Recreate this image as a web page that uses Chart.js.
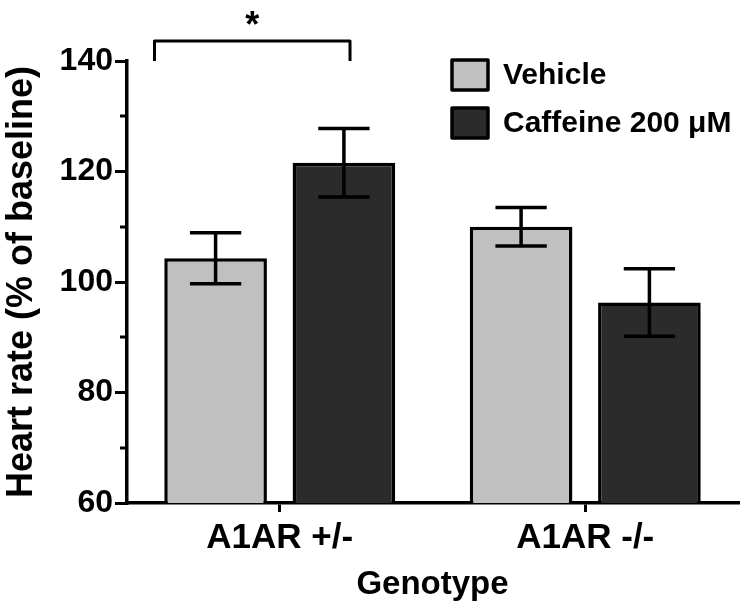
<!DOCTYPE html>
<html>
<head>
<meta charset="utf-8">
<script src="https://cdn.jsdelivr.net/npm/chart.js@4/dist/chart.umd.min.js"></script>
<style>
  html, body { margin: 0; padding: 0; background: #fff; }
  #wrap { width: 748px; height: 611px; position: relative; }
</style>
</head>
<body>
<div id="wrap"><canvas id="hrChart" width="748" height="611"></canvas></div>
<script>
const GENOTYPES = ["A1AR +/-", "A1AR -/-"];
const SERIES = ["Vehicle", "Caffeine 200 μM"];
const VEHICLE = [104.3, 110.0];
const VEHICLE_SEM = [4.6, 3.5];
const CAFFEINE = [121.6, 96.3];
const CAFFEINE_SEM = [6.2, 6.1];
const Y_MIN = 60;
const Y_MAX = 140;
const Y_STEP = 20;
const Y_MINOR = [70, 90, 110, 130];
const SIGNIF = { label: "*", group: 0 };

const COLORS = ["#c0c0c0", "#2b2b2b"];
const FONT = "'Liberation Sans', Arial, sans-serif";

// error bars, minor ticks, significance bracket, legend
const extras = {
  id: "extras",
  afterDatasetsDraw(chart) {
    const ctx = chart.ctx;
    const y = chart.scales.y;
    const sems = [VEHICLE_SEM, CAFFEINE_SEM];
    ctx.save();
    ctx.strokeStyle = "#000";
    ctx.lineWidth = 3.5;
    chart.data.datasets.forEach((ds, di) => {
      const meta = chart.getDatasetMeta(di);
      meta.data.forEach((bar, i) => {
        const v = ds.data[i];
        const e = sems[di][i];
        const top = y.getPixelForValue(v + e);
        const bot = y.getPixelForValue(v - e);
        const half = bar.width / 4;
        ctx.beginPath();
        ctx.moveTo(bar.x, top); ctx.lineTo(bar.x, bot);
        ctx.moveTo(bar.x - half, top); ctx.lineTo(bar.x + half, top);
        ctx.moveTo(bar.x - half, bot); ctx.lineTo(bar.x + half, bot);
        ctx.stroke();
      });
    });
    ctx.restore();
  },
  afterDraw(chart) {
    const ctx = chart.ctx;
    const x = chart.scales.x;
    const y = chart.scales.y;
    const area = chart.chartArea;
    ctx.save();
    ctx.strokeStyle = "#000";
    ctx.fillStyle = "#000";
    ctx.lineWidth = 3;

    // minor ticks
    ctx.beginPath();
    for (const v of Y_MINOR) {
      const py = Math.round(y.getPixelForValue(v));
      ctx.moveTo(area.left - 7, py);
      ctx.lineTo(area.left, py);
    }
    ctx.stroke();

    // bracket
    const g = SIGNIF.group;
    const bl = x.getPixelForValue(g - 0.41);
    const br = x.getPixelForValue(g + 0.23);
    const bt = y.getPixelForValue(143.6);
    const bb = y.getPixelForValue(140);
    ctx.lineJoin = "round";
    ctx.beginPath();
    ctx.moveTo(bl, bb); ctx.lineTo(bl, bt); ctx.lineTo(br, bt); ctx.lineTo(br, bb);
    ctx.stroke();
    ctx.font = "bold 36px " + FONT;
    ctx.textAlign = "center";
    ctx.textBaseline = "middle";
    ctx.fillText(SIGNIF.label, (bl + br) / 2, bt - 14);

    // legend
    const lx = area.right - 286;
    let ly = area.top - 1;
    ctx.font = "bold 30px " + FONT;
    ctx.textAlign = "left";
    ctx.lineWidth = 3.5;
    chart.data.datasets.forEach((ds) => {
      ctx.fillStyle = ds.backgroundColor;
      ctx.fillRect(lx, ly, 36, 30);
      ctx.strokeRect(lx, ly, 36, 30);
      ctx.fillStyle = "#000";
      ctx.fillText(ds.label, lx + 51, ly + 16);
      ly += 48;
    });
    ctx.restore();
  },
};

new Chart(document.getElementById("hrChart"), {
  type: "bar",
  data: {
    labels: GENOTYPES,
    datasets: [
      { label: SERIES[0], data: VEHICLE, backgroundColor: COLORS[0] },
      { label: SERIES[1], data: CAFFEINE, backgroundColor: COLORS[1] },
    ].map((d) => ({
      ...d,
      borderColor: "#000",
      borderWidth: 3.5,
      categoryPercentage: 0.84,
      barPercentage: 0.8,
    })),
  },
  options: {
    responsive: false,
    animation: false,
    layout: { padding: { top: 61, right: 10, bottom: 0, left: 0 } },
    plugins: { legend: { display: false }, tooltip: { enabled: false } },
    scales: {
      x: {
        grid: { drawOnChartArea: false, offset: false, tickLength: 9, lineWidth: 3, color: "#000" },
        border: { color: "#000", width: 3.5 },
        ticks: { color: "#000", font: { family: FONT, size: 35, weight: "bold" }, padding: 5 },
        title: {
          display: true,
          text: "Genotype",
          color: "#000",
          font: { family: FONT, size: 33, weight: "bold" },
          padding: { top: 0, bottom: 6 },
        },
        afterFit: (s) => { s.height = 108; },
      },
      y: {
        min: Y_MIN,
        max: Y_MAX,
        grid: { drawOnChartArea: false, tickLength: 12, lineWidth: 3, color: "#000" },
        border: { color: "#000", width: 3.5 },
        ticks: { stepSize: Y_STEP, color: "#000", font: { family: FONT, size: 32, weight: "bold" }, padding: 2 },
        title: {
          display: true,
          text: "Heart rate (% of baseline)",
          color: "#000",
          font: { family: FONT, size: 36, weight: "bold" },
          padding: { top: 0, bottom: 0 },
        },
        afterFit: (s) => { s.width = 127; },
      },
    },
  },
  plugins: [extras],
});
</script>
</body>
</html>
